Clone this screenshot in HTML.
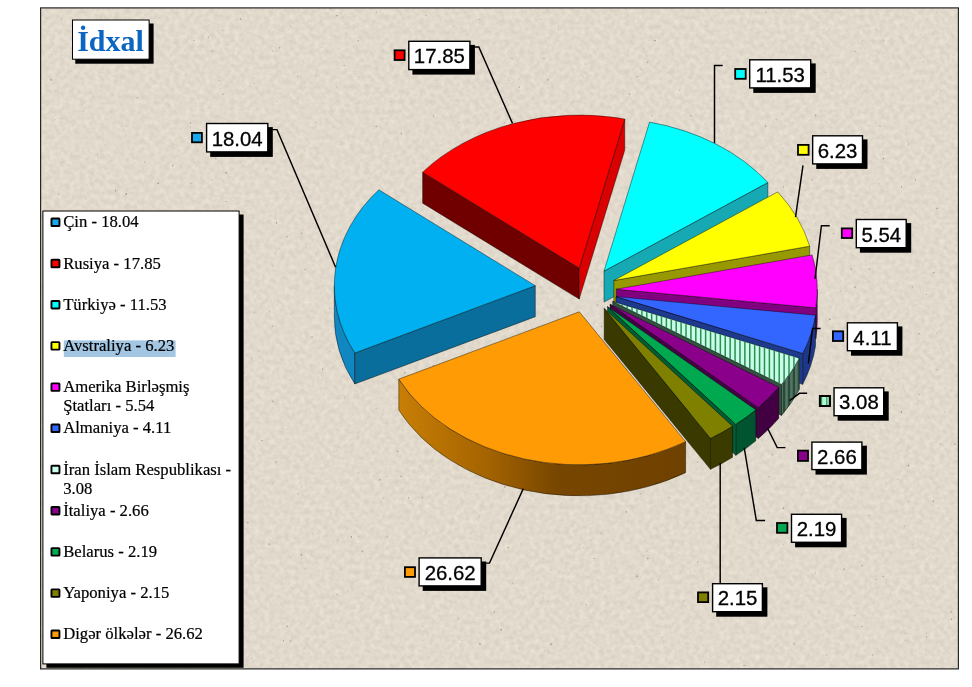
<!DOCTYPE html>
<html lang="az">
<head>
<meta charset="utf-8">
<title>İdxal</title>
<style>
html,body{margin:0;padding:0;background:#fff;}
body{width:972px;height:687px;overflow:hidden;position:relative;}
svg{position:absolute;left:0;top:0;display:block;}
.dl{font-family:"Liberation Sans",Arial,sans-serif;font-size:20.4px;fill:#000;stroke:#000;stroke-width:0.3px;}
.lg{font-family:"Liberation Serif","Times New Roman",serif;font-size:16.67px;fill:#000;stroke:#000;stroke-width:0.2px;}
.ttl{font-family:"Liberation Serif","Times New Roman",serif;font-size:30px;font-weight:bold;fill:#0b66c3;}
</style>
</head>
<body>
<svg width="972" height="687" viewBox="0 0 972 687">
<defs>
<filter id="paper" x="0" y="0" width="100%" height="100%" color-interpolation-filters="sRGB">
<feTurbulence type="fractalNoise" baseFrequency="0.2" numOctaves="2" seed="7" result="n"/>
<feColorMatrix in="n" type="matrix" values="0.11 0 0 0 0.828  0.11 0 0 0 0.797  0.11 0 0 0 0.742  0 0 0 0 1"/>
</filter>
<filter id="specks" x="0" y="0" width="100%" height="100%" color-interpolation-filters="sRGB">
<feTurbulence type="fractalNoise" baseFrequency="0.28" numOctaves="1" seed="11" result="n"/>
<feColorMatrix in="n" type="matrix" values="0 0 0 0 0.58  0 0 0 0 0.54  0 0 0 0 0.47  0 8 0 0 -6.0"/>
</filter>
<linearGradient id="gOrange" gradientUnits="userSpaceOnUse" x1="400" y1="0" x2="686" y2="0">
<stop offset="0" stop-color="#c87e06"/><stop offset="0.30" stop-color="#a56400"/>
<stop offset="0.55" stop-color="#774600"/><stop offset="1" stop-color="#6f4100"/>
</linearGradient>
</defs>
<rect x="40.5" y="8" width="918" height="661" fill="#ded6c8"/>
<rect x="40.5" y="8" width="918" height="661" filter="url(#paper)"/>
<rect x="40.5" y="8" width="918" height="661" filter="url(#specks)"/>
<rect x="40.6" y="7.9" width="917.8" height="661" fill="none" stroke="#262626" stroke-width="1.2"/>
<!-- title -->
<rect x="75.3" y="23.5" width="78.3" height="40.2" fill="#000"/>
<rect x="72.5" y="20" width="76.6" height="39.2" fill="#fff" stroke="#000" stroke-width="1"/>
<text x="110.5" y="50.9" text-anchor="middle" class="ttl">İdxal</text>
<!-- pie -->
<clipPath id="cTop"><path d="M 612.7 301.4 L 799.35 358.17 A 201 153 0 0 1 781.52 384.43 Z"/></clipPath><clipPath id="cWall"><path d="M 799.35 358.17 A 201 153 0 0 1 781.52 384.43 L 781.52 415.43 A 201 153 0 0 0 799.35 389.17 Z"/></clipPath><path d="M 579.2 268.1 L 422.65 172.14 L 422.65 203.14 L 579.2 299.1 Z" fill="#700000" stroke="#000" stroke-opacity="0.7" stroke-width="0.6" stroke-linejoin="round"/>
<path d="M 579.2 268.1 L 624.77 119.08 L 624.77 150.08 L 579.2 299.1 Z" fill="#d80000" stroke="#000" stroke-opacity="0.7" stroke-width="0.6" stroke-linejoin="round"/>
<path d="M 354.8 353.01 A 201 153 0 0 1 334.3 285.7 L 334.3 316.7 A 201 153 0 0 0 354.8 384.01 Z" fill="#1187c2" stroke="#000" stroke-opacity="0.7" stroke-width="0.6" stroke-linejoin="round"/>
<path d="M 535.3 285.7 L 354.8 353.01 L 354.8 384.01 L 535.3 316.7 Z" fill="#0a6e9c" stroke="#000" stroke-opacity="0.7" stroke-width="0.6" stroke-linejoin="round"/>

<path d="M 604 271.1 L 767.87 182.5 L 767.87 213.5 L 604 302.1 Z" fill="#16a9b4" stroke="#000" stroke-opacity="0.7" stroke-width="0.6" stroke-linejoin="round"/>

<path d="M 613.8 280.5 L 809.68 246.19 L 809.68 277.19 L 613.8 311.5 Z" fill="#989800" stroke="#000" stroke-opacity="0.7" stroke-width="0.6" stroke-linejoin="round"/>
<path d="M 817.3 289.2 A 201 153 0 0 1 815.81 307.8 L 815.81 338.8 A 201 153 0 0 0 817.3 320.2 Z" fill="#7a007a" stroke="#000" stroke-opacity="0.7" stroke-width="0.6" stroke-linejoin="round"/>
<path d="M 616.3 289.2 L 815.81 307.8 L 815.81 338.8 L 616.3 320.2 Z" fill="#800080" stroke="#000" stroke-opacity="0.7" stroke-width="0.6" stroke-linejoin="round"/>
<path d="M 815.51 315.2 A 201 153 0 0 1 802.65 353.37 L 802.65 384.37 A 201 153 0 0 0 815.51 346.2 Z" fill="#1c388a" stroke="#000" stroke-opacity="0.7" stroke-width="0.6" stroke-linejoin="round"/>
<path d="M 616 296.6 L 802.65 353.37 L 802.65 384.37 L 616 327.6 Z" fill="#1d3a8c" stroke="#000" stroke-opacity="0.7" stroke-width="0.6" stroke-linejoin="round"/>
<path d="M 799.35 358.17 A 201 153 0 0 1 781.52 384.43 L 781.52 415.43 A 201 153 0 0 0 799.35 389.17 Z" fill="#557565" stroke="#000" stroke-opacity="0.7" stroke-width="0.6" stroke-linejoin="round"/>
<g clip-path="url(#cWall)"><g fill="#294939"><rect x="733.9" y="340" width="2.3" height="100"/><rect x="738.81" y="340" width="2.3" height="100"/><rect x="743.71" y="340" width="2.3" height="100"/><rect x="748.62" y="340" width="2.3" height="100"/><rect x="753.52" y="340" width="2.3" height="100"/><rect x="758.43" y="340" width="2.3" height="100"/><rect x="763.33" y="340" width="2.3" height="100"/><rect x="768.24" y="340" width="2.3" height="100"/><rect x="773.14" y="340" width="2.3" height="100"/><rect x="778.05" y="340" width="2.3" height="100"/><rect x="782.95" y="340" width="2.3" height="100"/><rect x="787.86" y="340" width="2.3" height="100"/><rect x="792.76" y="340" width="2.3" height="100"/><rect x="797.67" y="340" width="2.3" height="100"/><rect x="802.57" y="340" width="2.3" height="100"/><rect x="807.48" y="340" width="2.3" height="100"/><rect x="812.38" y="340" width="2.3" height="100"/><rect x="817.29" y="340" width="2.3" height="100"/></g></g>
<path d="M 612.7 301.4 L 781.52 384.43 L 781.52 415.43 L 612.7 332.4 Z" fill="#33513f" stroke="#000" stroke-opacity="0.7" stroke-width="0.6" stroke-linejoin="round"/>
<path d="M 778.82 387.23 A 201 153 0 0 1 758.33 407.46 L 758.33 438.46 A 201 153 0 0 0 778.82 418.23 Z" fill="#420042" stroke="#000" stroke-opacity="0.7" stroke-width="0.6" stroke-linejoin="round"/>
<path d="M 610 304.2 L 758.33 407.46 L 758.33 438.46 L 610 335.2 Z" fill="#460046" stroke="#000" stroke-opacity="0.7" stroke-width="0.6" stroke-linejoin="round"/>
<path d="M 755.83 409.86 A 201 153 0 0 1 735.82 424.37 L 735.82 455.37 A 201 153 0 0 0 755.83 440.86 Z" fill="#005530" stroke="#000" stroke-opacity="0.7" stroke-width="0.6" stroke-linejoin="round"/>
<path d="M 607.5 306.6 L 735.82 424.37 L 735.82 455.37 L 607.5 337.6 Z" fill="#005c32" stroke="#000" stroke-opacity="0.7" stroke-width="0.6" stroke-linejoin="round"/>
<path d="M 732.52 426.27 A 201 153 0 0 1 710.51 438.35 L 710.51 469.35 A 201 153 0 0 0 732.52 457.27 Z" fill="#3b3b00" stroke="#000" stroke-opacity="0.7" stroke-width="0.6" stroke-linejoin="round"/>
<path d="M 604.2 308.5 L 710.51 438.35 L 710.51 469.35 L 604.2 339.5 Z" fill="#393900" stroke="#000" stroke-opacity="0.7" stroke-width="0.6" stroke-linejoin="round"/>
<path d="M 685.61 441.65 A 201 153 0 0 1 398.8 379.11 L 398.8 410.11 A 201 153 0 0 0 685.61 472.65 Z" fill="url(#gOrange)" stroke="#000" stroke-opacity="0.7" stroke-width="0.6" stroke-linejoin="round"/>
<path d="M 579.2 268.1 L 422.65 172.14 A 201 153 0 0 1 624.77 119.08 Z" fill="#ff0000" stroke="#000" stroke-opacity="0.7" stroke-width="0.6" stroke-linejoin="round"/>
<path d="M 604 271.1 L 649.57 122.08 A 201 153 0 0 1 767.87 182.5 Z" fill="#00ffff" stroke="#000" stroke-opacity="0.7" stroke-width="0.6" stroke-linejoin="round"/>
<path d="M 535.3 285.7 L 354.8 353.01 A 201 153 0 0 1 378.75 189.74 Z" fill="#00b0f0" stroke="#000" stroke-opacity="0.7" stroke-width="0.6" stroke-linejoin="round"/>
<path d="M 613.8 280.5 L 777.67 191.9 A 201 153 0 0 1 809.68 246.19 Z" fill="#ffff00" stroke="#000" stroke-opacity="0.7" stroke-width="0.6" stroke-linejoin="round"/>
<path d="M 616.3 289.2 L 812.18 254.89 A 201 153 0 0 1 815.81 307.8 Z" fill="#ff00ff" stroke="#000" stroke-opacity="0.7" stroke-width="0.6" stroke-linejoin="round"/>
<path d="M 616 296.6 L 815.51 315.2 A 201 153 0 0 1 802.65 353.37 Z" fill="#3366ff" stroke="#000" stroke-opacity="0.7" stroke-width="0.6" stroke-linejoin="round"/>
<path d="M 612.7 301.4 L 799.35 358.17 A 201 153 0 0 1 781.52 384.43 Z" fill="#c6feea" stroke="#000" stroke-opacity="0.7" stroke-width="0.6" stroke-linejoin="round"/>
<g clip-path="url(#cTop)"><g fill="#2d8d4e"><rect x="596.96" y="295" width="1.5" height="105"/><rect x="601.87" y="295" width="1.5" height="105"/><rect x="606.77" y="295" width="1.5" height="105"/><rect x="611.67" y="295" width="1.5" height="105"/><rect x="616.58" y="295" width="1.5" height="105"/><rect x="621.49" y="295" width="1.5" height="105"/><rect x="626.39" y="295" width="1.5" height="105"/><rect x="631.29" y="295" width="1.5" height="105"/><rect x="636.2" y="295" width="1.5" height="105"/><rect x="641.11" y="295" width="1.5" height="105"/><rect x="646.01" y="295" width="1.5" height="105"/><rect x="650.91" y="295" width="1.5" height="105"/><rect x="655.82" y="295" width="1.5" height="105"/><rect x="660.73" y="295" width="1.5" height="105"/><rect x="665.63" y="295" width="1.5" height="105"/><rect x="670.53" y="295" width="1.5" height="105"/><rect x="675.44" y="295" width="1.5" height="105"/><rect x="680.35" y="295" width="1.5" height="105"/><rect x="685.25" y="295" width="1.5" height="105"/><rect x="690.15" y="295" width="1.5" height="105"/><rect x="695.06" y="295" width="1.5" height="105"/><rect x="699.97" y="295" width="1.5" height="105"/><rect x="704.87" y="295" width="1.5" height="105"/><rect x="709.77" y="295" width="1.5" height="105"/><rect x="714.68" y="295" width="1.5" height="105"/><rect x="719.59" y="295" width="1.5" height="105"/><rect x="724.49" y="295" width="1.5" height="105"/><rect x="729.39" y="295" width="1.5" height="105"/><rect x="734.3" y="295" width="1.5" height="105"/><rect x="739.21" y="295" width="1.5" height="105"/><rect x="744.11" y="295" width="1.5" height="105"/><rect x="749.01" y="295" width="1.5" height="105"/><rect x="753.92" y="295" width="1.5" height="105"/><rect x="758.83" y="295" width="1.5" height="105"/><rect x="763.73" y="295" width="1.5" height="105"/><rect x="768.63" y="295" width="1.5" height="105"/><rect x="773.54" y="295" width="1.5" height="105"/><rect x="778.45" y="295" width="1.5" height="105"/><rect x="783.35" y="295" width="1.5" height="105"/><rect x="788.25" y="295" width="1.5" height="105"/><rect x="793.16" y="295" width="1.5" height="105"/><rect x="798.07" y="295" width="1.5" height="105"/><rect x="802.97" y="295" width="1.5" height="105"/><rect x="807.88" y="295" width="1.5" height="105"/><rect x="812.78" y="295" width="1.5" height="105"/><rect x="817.69" y="295" width="1.5" height="105"/></g></g>
<path d="M 610 304.2 L 778.82 387.23 A 201 153 0 0 1 758.33 407.46 Z" fill="#8b008b" stroke="#000" stroke-opacity="0.7" stroke-width="0.6" stroke-linejoin="round"/>
<path d="M 607.5 306.6 L 755.83 409.86 A 201 153 0 0 1 735.82 424.37 Z" fill="#00a850" stroke="#000" stroke-opacity="0.7" stroke-width="0.6" stroke-linejoin="round"/>
<path d="M 604.2 308.5 L 732.52 426.27 A 201 153 0 0 1 710.51 438.35 Z" fill="#808000" stroke="#000" stroke-opacity="0.7" stroke-width="0.6" stroke-linejoin="round"/>
<path d="M 579.3 311.8 L 685.61 441.65 A 201 153 0 0 1 398.8 379.11 Z" fill="#ff9c05" stroke="#000" stroke-opacity="0.7" stroke-width="0.6" stroke-linejoin="round"/>
<!-- data labels -->
<polyline points="272 129.6 277 129.6 335.6 267.2" fill="none" stroke="#000" stroke-width="1.45"/>
<polyline points="474 46.9 478.8 46.9 512.5 123.4" fill="none" stroke="#000" stroke-width="1.45"/>
<polyline points="722.7 65.5 714.5 65.5 714.5 143" fill="none" stroke="#000" stroke-width="1.45"/>
<polyline points="803 165.3 795.5 217.1" fill="none" stroke="#000" stroke-width="1.45"/>
<polyline points="829.7 225.7 821.4 225.7 815 279" fill="none" stroke="#000" stroke-width="1.45"/>
<polyline points="820.6 328.5 812.6 328.5 808.4 363.4" fill="none" stroke="#000" stroke-width="1.45"/>
<polyline points="807.1 393.3 799.4 393.3 789.6 400.7" fill="none" stroke="#000" stroke-width="1.45"/>
<polyline points="785.4 447.6 777.2 447.6 767.6 428.2" fill="none" stroke="#000" stroke-width="1.45"/>
<polyline points="765.1 520.4 756.3 520.4 744.2 447.7" fill="none" stroke="#000" stroke-width="1.45"/>
<polyline points="720.2 583.3 720.2 463" fill="none" stroke="#000" stroke-width="1.45"/>
<polyline points="485.5 563.1 489.5 563.1 523.3 488.6" fill="none" stroke="#000" stroke-width="1.45"/>
<rect x="210.2" y="127.1" width="62.6" height="29.8" fill="#000"/>
<rect x="206.6" y="123.5" width="61.2" height="28.4" fill="#fff" stroke="#000" stroke-width="1.4"/>
<rect x="192" y="132.9" width="9.9" height="9.4" fill="#1aa7ec" stroke="#000" stroke-width="1.8"/>
<text x="237.2" y="145.95" text-anchor="middle" class="dl">18.04</text>
<rect x="412.4" y="44.9" width="62.5" height="29.7" fill="#000"/>
<rect x="408.8" y="41.3" width="61.1" height="28.3" fill="#fff" stroke="#000" stroke-width="1.4"/>
<rect x="394.6" y="50.3" width="10" height="9.7" fill="#ff0000" stroke="#000" stroke-width="1.8"/>
<text x="439.35" y="62.9" text-anchor="middle" class="dl">17.85</text>
<rect x="753.3" y="63.4" width="62.4" height="29.5" fill="#000"/>
<rect x="749.7" y="59.8" width="61" height="28.1" fill="#fff" stroke="#000" stroke-width="1.4"/>
<rect x="735.2" y="69" width="10.5" height="9.8" fill="#00ffff" stroke="#000" stroke-width="1.8"/>
<text x="780.2" y="81.75" text-anchor="middle" class="dl">11.53</text>
<rect x="816.25" y="139.4" width="51.25" height="29.5" fill="#000"/>
<rect x="812.65" y="135.8" width="49.85" height="28.1" fill="#fff" stroke="#000" stroke-width="1.4"/>
<rect x="798" y="144.9" width="10.6" height="9.9" fill="#ffff00" stroke="#000" stroke-width="1.8"/>
<text x="837.58" y="158.1" text-anchor="middle" class="dl">6.23</text>
<rect x="859.9" y="223.1" width="51.3" height="29.6" fill="#000"/>
<rect x="856.3" y="219.5" width="49.9" height="28.2" fill="#fff" stroke="#000" stroke-width="1.4"/>
<rect x="841.8" y="228.4" width="10.4" height="9.6" fill="#ff00ff" stroke="#000" stroke-width="1.8"/>
<text x="881.25" y="241.95" text-anchor="middle" class="dl">5.54</text>
<rect x="851" y="326.4" width="51.4" height="29.3" fill="#000"/>
<rect x="847.4" y="322.8" width="50" height="27.9" fill="#fff" stroke="#000" stroke-width="1.4"/>
<rect x="832.9" y="331.3" width="10.3" height="9.7" fill="#3366ff" stroke="#000" stroke-width="1.8"/>
<text x="872.4" y="344.8" text-anchor="middle" class="dl">4.11</text>
<rect x="837.65" y="391.4" width="51.05" height="29.3" fill="#000"/>
<rect x="834.05" y="387.8" width="49.65" height="27.9" fill="#fff" stroke="#000" stroke-width="1.4"/>
<rect x="819.85" y="396" width="10.05" height="10" fill="#b4f8d8" stroke="#000" stroke-width="1.8"/>
<rect x="820.5" y="396.6" width="1.7" height="8.8" fill="#2f9a55"/>
<rect x="826.15" y="396.6" width="1.25" height="8.8" fill="#2f9a55"/>
<rect x="828.6" y="396.6" width="1.4" height="8.8" fill="#2f9a55"/>
<rect x="819.85" y="396" width="10.05" height="10" fill="none" stroke="#000" stroke-width="1.8"/>
<text x="858.88" y="408.95" text-anchor="middle" class="dl">3.08</text>
<rect x="815.5" y="445.7" width="51.4" height="28.9" fill="#000"/>
<rect x="811.9" y="442.1" width="50" height="27.5" fill="#fff" stroke="#000" stroke-width="1.4"/>
<rect x="797.9" y="450.6" width="10.1" height="10.3" fill="#8b008b" stroke="#000" stroke-width="1.8"/>
<text x="836.9" y="463.8" text-anchor="middle" class="dl">2.66</text>
<rect x="795.1" y="517.9" width="51.5" height="29.4" fill="#000"/>
<rect x="791.5" y="514.3" width="50.1" height="28" fill="#fff" stroke="#000" stroke-width="1.4"/>
<rect x="777" y="523" width="10.4" height="9.8" fill="#00a850" stroke="#000" stroke-width="1.8"/>
<text x="816.55" y="536" text-anchor="middle" class="dl">2.19</text>
<rect x="716.2" y="587.3" width="51.2" height="29.4" fill="#000"/>
<rect x="712.6" y="583.7" width="49.8" height="28" fill="#fff" stroke="#000" stroke-width="1.4"/>
<rect x="698" y="592.4" width="10.2" height="9.7" fill="#808000" stroke="#000" stroke-width="1.8"/>
<text x="737.5" y="604.5" text-anchor="middle" class="dl">2.15</text>
<rect x="422.7" y="561.5" width="63.5" height="29.4" fill="#000"/>
<rect x="419.1" y="557.9" width="62.1" height="28" fill="#fff" stroke="#000" stroke-width="1.4"/>
<rect x="404.9" y="567.2" width="10.1" height="9.7" fill="#ff9c05" stroke="#000" stroke-width="1.8"/>
<text x="450.15" y="579.9" text-anchor="middle" class="dl">26.62</text>
<!-- legend -->
<rect x="46.4" y="214.5" width="197.2" height="453.3" fill="#000"/>
<rect x="42.9" y="211" width="196.2" height="452.9" fill="#fff" stroke="#000" stroke-width="1"/>
<rect x="51.45" y="218.55" width="8.0" height="7.5" rx="0.6" fill="#1aa7ec" stroke="#000" stroke-width="1.9"/>
<text x="63.2" y="227.4" class="lg">Çin - 18.04</text>
<rect x="51.45" y="259.75" width="8.0" height="7.5" rx="0.6" fill="#ff0000" stroke="#000" stroke-width="1.9"/>
<text x="63.2" y="268.6" class="lg">Rusiya - 17.85</text>
<rect x="51.45" y="300.95" width="8.0" height="7.5" rx="0.6" fill="#00ffff" stroke="#000" stroke-width="1.9"/>
<text x="63.2" y="309.8" class="lg">Türkiyə - 11.53</text>
<rect x="63.8" y="340.4" width="111.8" height="16.6" fill="#a3c6e2"/>
<rect x="51.45" y="342.15" width="8.0" height="7.5" rx="0.6" fill="#ffff00" stroke="#000" stroke-width="1.9"/>
<text x="63.2" y="351" class="lg">Avstraliya - 6.23</text>
<rect x="51.45" y="383.35" width="8.0" height="7.5" rx="0.6" fill="#ff00ff" stroke="#000" stroke-width="1.9"/>
<text x="63.2" y="392.2" class="lg">Amerika Birləşmiş</text>
<text x="63.2" y="411.3" class="lg">Ştatları - 5.54</text>
<rect x="51.45" y="424.55" width="8.0" height="7.5" rx="0.6" fill="#3366ff" stroke="#000" stroke-width="1.9"/>
<text x="63.2" y="433.4" class="lg">Almaniya - 4.11</text>
<rect x="51.45" y="465.75" width="8.0" height="7.5" rx="0.6" fill="#ccfff0" stroke="#000" stroke-width="1.9"/>
<text x="63.2" y="474.6" class="lg">İran İslam Respublikası -</text>
<text x="63.2" y="493.7" class="lg">3.08</text>
<rect x="51.45" y="506.95" width="8.0" height="7.5" rx="0.6" fill="#8b008b" stroke="#000" stroke-width="1.9"/>
<text x="63.2" y="515.8" class="lg">İtaliya - 2.66</text>
<rect x="51.45" y="548.15" width="8.0" height="7.5" rx="0.6" fill="#00a850" stroke="#000" stroke-width="1.9"/>
<text x="63.2" y="557" class="lg">Belarus - 2.19</text>
<rect x="51.45" y="589.35" width="8.0" height="7.5" rx="0.6" fill="#808000" stroke="#000" stroke-width="1.9"/>
<text x="63.2" y="598.2" class="lg">Yaponiya - 2.15</text>
<rect x="51.45" y="630.55" width="8.0" height="7.5" rx="0.6" fill="#ff9c05" stroke="#000" stroke-width="1.9"/>
<text x="63.2" y="639.4" class="lg">Digər ölkələr - 26.62</text>
</svg>
</body>
</html>
